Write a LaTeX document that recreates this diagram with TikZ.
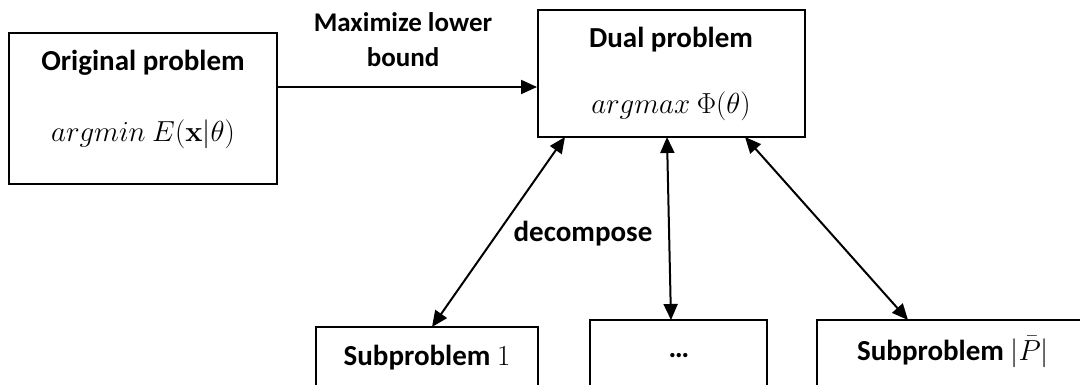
\documentclass[tikz,border=0pt]{standalone}
\usepackage{fix-cm}
\usepackage[no-math]{fontspec}
\setmainfont{Carlito}
\usetikzlibrary{arrows.meta,calc}
\tikzset{
  boxnode/.style={draw, line width=2pt, inner sep=0pt},
  lbl/.style={font=\fontsize{29}{34}\selectfont\bfseries, inner sep=0pt, anchor=base},
  lbls/.style={font=\fontsize{27}{34}\selectfont\bfseries, inner sep=0pt, anchor=base},
  mth/.style={font=\fontsize{29}{34}\selectfont, inner sep=0pt, anchor=base},
  conn/.style={line width=2pt, -{Triangle[length=16pt,width=14pt]}},
  biconn/.style={line width=2pt, {Triangle[length=16pt,width=14pt]}-{Triangle[length=16pt,width=14pt]}},
}
\begin{document}
\begin{tikzpicture}[x=1pt,y=-1pt]
\useasboundingbox (0,0) rectangle (1080,385);
\clip (0,0) rectangle (1080,385);
% boxes
\node[boxnode, minimum width=268pt, minimum height=151pt] (orig) at (143,108.5) {};
\node[boxnode, minimum width=267pt, minimum height=127pt] (dual) at (671.5,73.5) {};
\node[boxnode, minimum width=222pt, minimum height=80pt] (sub1) at (427,367) {};
\node[boxnode, minimum width=177pt, minimum height=90pt] (sub2) at (678.5,365) {};
\node[boxnode, minimum width=290pt, minimum height=90pt] (sub3) at (962,365) {};
% texts
\node[lbl] (origt) at (143,71) {Original problem};
\node[mth] (origm) at (143,142) {$argmin\ E(\mathbf{x}|\theta)$};
\node[lbl] (dualt) at (671,48) {Dual problem};
\node[mth] (dualm) at (671,114) {$argmax\ \Phi(\theta)$};
\node[lbls] (maxt1) at (403,32) {Maximize lower};
\node[lbls] (maxt2) at (403,67) {bound};
\node[lbl] (dec) at (583,241) {decompose};
\node[lbl] (sub1t) at (427,365) {Subproblem $1$};
\node[lbl, anchor=center] (sub2t) at (679,356) {…};
\node[lbl] (sub3t) at (953,360) {Subproblem $|\bar{P}|$};
% connectors
\coordinate (o1) at (orig.east |- 0,87);
\coordinate (d1) at (dual.west |- 0,87);
\draw[conn] (o1) -- (d1);
\coordinate (da) at (565,137);
\coordinate (db) at (667,137);
\coordinate (dc) at (745,137);
\coordinate (sa) at (432,327);
\coordinate (sb) at (671,320);
\coordinate (sc) at (908,320);
\draw[biconn] (da) -- (sa);
\draw[biconn] (db) -- (sb);
\draw[biconn] (dc) -- (sc);
\end{tikzpicture}
\end{document}
